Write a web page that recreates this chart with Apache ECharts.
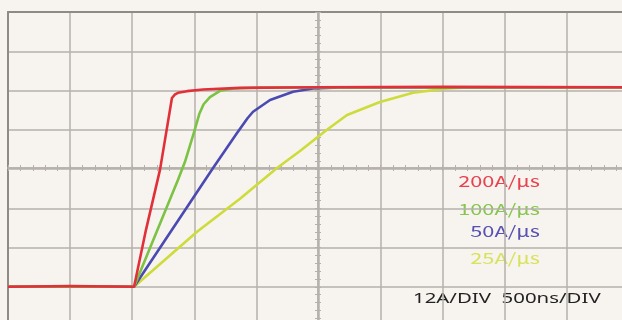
<!DOCTYPE html>
<html><head><meta charset="utf-8">
<script src="https://cdn.jsdelivr.net/npm/echarts@6/dist/echarts.min.js"></script>
<style>html,body{margin:0;padding:0;background:#f7f3ef}#c{width:622px;height:320px}</style>
</head><body><div id="c"></div>
<script>
// time in ns, current in A (12 A/div, 500 ns/div)
const rate200 = [[0,0],[500,0.2],[1015,0],[1023,0],[1111,17.4],[1224,35.8],[1264,44.9],[1320,57.7],[1345,58.8],[1369,59.3],[1441,59.8],[1570,60.3],[1868,60.8],[2500,61],[3500,61.1],[5000,61]];
const rate100 = [[0,0],[1015,0],[1023,0],[1369,32.7],[1425,38.2],[1500,47.5],[1540,52.8],[1575,55.8],[1626,58.0],[1707,59.9],[1812,60.6],[2029,60.9],[5000,61]];
const rate50  = [[0,0],[1015,0],[1023,0],[1481,26.6],[1651,36.3],[1844,47.0],[1930,51.6],[1973,53.5],[2110,57.1],[2295,59.6],[2456,60.6],[2673,60.9],[5000,61]];
const rate25  = [[0,0],[1015,0],[1023,0],[1522,16.8],[1868,26.9],[2166,36.3],[2351,41.5],[2568,48.0],[2730,52.5],[2995,56.5],[3261,59.3],[3535,60.6],[3696,60.9],[5000,61]];
const seriesNames = ['200A/μs','100A/μs','50A/μs','25A/μs'];
const scaleText = ['12A/DIV  500ns/DIV'];

const gridColor = '#b5b0ab';
const X = {min:0, max:5000, interval:500};
const Y = {min:-12, max:84, interval:12};
const hiddenX = i => ({gridIndex:i, type:'value', show:false, min:0, max:5000});
const hiddenY = i => ({gridIndex:i, type:'value', show:false, min:-12, max:84});
const tickAxis = (base, i, pos) => Object.assign({gridIndex:i, type:'value', position:pos,
  axisLine:{show:true, onZero:false, lineStyle:{color:gridColor, width:1.5}},
  axisTick:{show:true, inside:true, length:3, lineStyle:{color:gridColor, width:1}},
  minorTick:{show:true, splitNumber:5, length:3, lineStyle:{color:gridColor, width:1}},
  axisLabel:{show:false}, splitLine:{show:false}}, base);
const G = (left, top, width, height) => ({left, top, width, height, outerBoundsMode:'none', containLabel:false});

const chart = echarts.init(document.getElementById('c'), null, {renderer:'canvas'});
const lineS = (name, data, color) => ({type:'line', name, data, xAxisIndex:0, yAxisIndex:0,
  showSymbol:false, smooth:false, lineStyle:{color, width:2.6, join:'round'}, itemStyle:{color}, silent:true, animation:false});

chart.setOption({
  backgroundColor:'#f7f3ef',
  animation:false,
  grid:[
    G(8, 12, 621, 314),
    G(8, 12, 621, 156),
    G(8, 168, 621, 158),
    G(8, 12, 310, 314),
    G(318, 12, 311, 314)
  ],
  xAxis:[
    Object.assign({gridIndex:0, type:'value', position:'top',
      axisLine:{show:true, onZero:false, lineStyle:{color:'#8f8a86', width:2}}, axisTick:{show:false}, axisLabel:{show:false},
      splitLine:{show:true, lineStyle:{color:gridColor, width:1.5}}}, X),
    tickAxis(X, 1, 'bottom'),
    tickAxis(X, 2, 'top'),
    hiddenX(3), hiddenX(4)
  ],
  yAxis:[
    Object.assign({gridIndex:0, type:'value', position:'left',
      axisLine:{show:true, onZero:false, lineStyle:{color:'#8f8a86', width:2}}, axisTick:{show:false}, axisLabel:{show:false},
      splitLine:{show:true, lineStyle:{color:gridColor, width:1.5}}}, Y),
    hiddenY(1), hiddenY(2),
    tickAxis(Y, 3, 'right'),
    tickAxis(Y, 4, 'left')
  ],
  series:[
    lineS(seriesNames[3], rate25, '#cddc3a'),
    lineS(seriesNames[2], rate50, '#4a4ab2'),
    lineS(seriesNames[1], rate100, '#7cc244'),
    lineS(seriesNames[0], rate200, '#e2303a')
  ],
  graphic:[
    {type:'text', x:540, y:181, scaleX:1.45, style:{text:seriesNames[0], fill:'#e8424e', font:'15px "Noto Sans CJK JP"', align:'right', verticalAlign:'middle'}},
    {type:'text', x:540, y:209, scaleX:1.45, style:{text:seriesNames[1], fill:'#86c64e', font:'15px "Noto Sans CJK JP"', align:'right', verticalAlign:'middle'}},
    {type:'text', x:540, y:231, scaleX:1.45, style:{text:seriesNames[2], fill:'#5850b2', font:'15px "Noto Sans CJK JP"', align:'right', verticalAlign:'middle'}},
    {type:'text', x:540, y:258, scaleX:1.45, style:{text:seriesNames[3], fill:'#d8e25c', font:'15px "Noto Sans CJK JP"', align:'right', verticalAlign:'middle'}},
    {type:'text', x:413, y:299, scaleX:1.36, style:{text:scaleText[0], fill:'#222222', font:'15px "Noto Sans"', align:'left', verticalAlign:'middle'}}
  ]
});
</script></body></html>
